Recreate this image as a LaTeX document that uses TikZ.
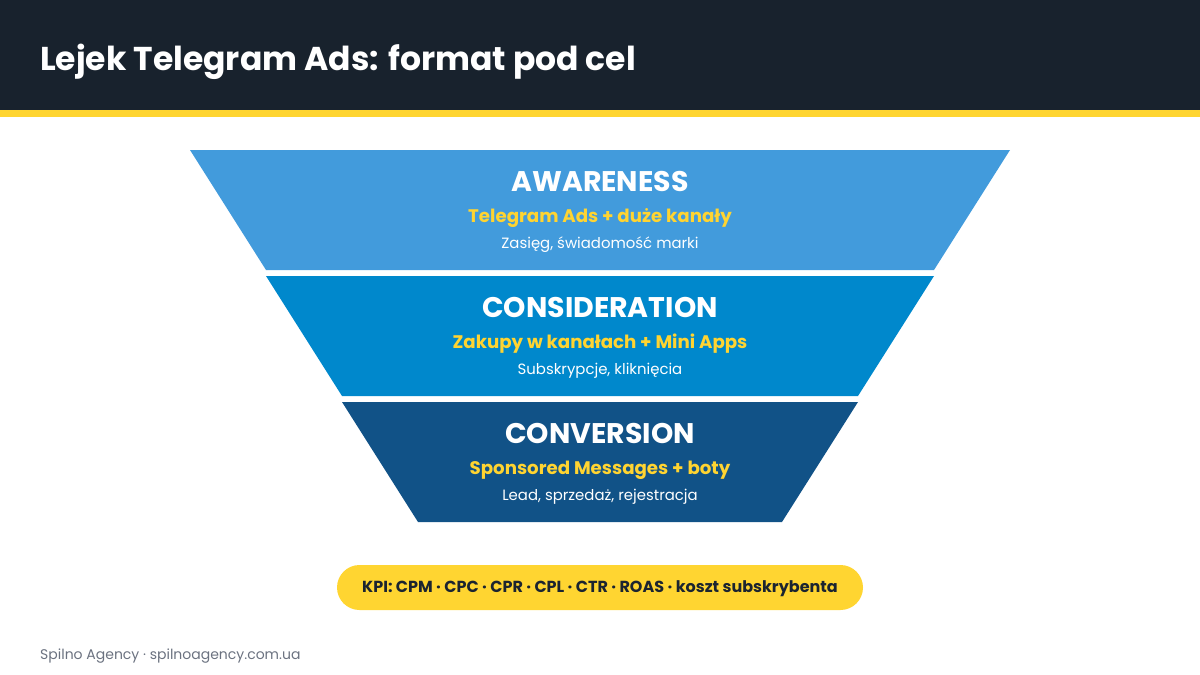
\documentclass[tikz,border=0pt]{standalone}
\usepackage{fontspec}
\setmainfont{Poppins}
\definecolor{hdr}{HTML}{18222D}
\definecolor{accentyellow}{HTML}{FFD531}
\definecolor{lone}{HTML}{429BDC}
\definecolor{ltwo}{HTML}{0088CC}
\definecolor{lthree}{HTML}{115287}
\definecolor{ytext}{HTML}{FFD431}
\definecolor{kpitext}{HTML}{1B2430}
\definecolor{foot}{HTML}{6B7280}
\tikzset{
  lvltitle/.style={anchor=base, inner sep=0pt, text=white, font=\fontsize{28.4}{32}\selectfont\bfseries},
  lvlsub/.style={anchor=base, inner sep=0pt, text=ytext, font=\fontsize{18.2}{21}\selectfont\bfseries},
  lvlnote/.style={anchor=base, inner sep=0pt, text=white, font=\fontsize{14.9}{17}\selectfont},
}
\begin{document}
\begin{tikzpicture}[x=1pt,y=-1pt]
\useasboundingbox (0,0) rectangle (1200,675);
\fill[hdr] (0,0) rectangle (1200,110);
\fill[accentyellow] (0,110) rectangle (1200,117);
\node[anchor=base west, inner sep=0pt, text=white, font=\fontsize{33}{38}\selectfont\bfseries] (title) at (40,70) {Lejek Telegram Ads: format pod cel};
% funnel
\fill[lone] (190,150) -- (1010,150) -- (934,270) -- (266,270) -- cycle;
\fill[ltwo] (266,276) -- (934,276) -- (858,396) -- (342,396) -- cycle;
\fill[lthree] (342,402) -- (858,402) -- (782,522) -- (418,522) -- cycle;
\node[lvltitle] (t1) at (600,191) {AWARENESS};
\node[lvlsub] (s1) at (600,222) {Telegram Ads + duże kanały};
\node[lvlnote] (n1) at (600,248) {Zasięg, świadomość marki};
\node[lvltitle] (t2) at (600,317) {CONSIDERATION};
\node[lvlsub] (s2) at (600,348) {Zakupy w kanałach + Mini Apps};
\node[lvlnote] (n2) at (600,374) {Subskrypcje, kliknięcia};
\node[lvltitle] (t3) at (600,443) {CONVERSION};
\node[lvlsub] (s3) at (600,474) {Sponsored Messages + boty};
\node[lvlnote] (n3) at (600,500) {Lead, sprzedaż, rejestracja};
% KPI pill
\fill[accentyellow, rounded corners=22.5pt] (337,565) rectangle (863,610);
\node[anchor=base, inner sep=0pt, text=kpitext, font=\fontsize{16}{19}\selectfont\bfseries] (kpi) at (600,592) {KPI: CPM · CPC · CPR · CPL · CTR · ROAS · koszt subskrybenta};
\node[anchor=base west, inner sep=0pt, text=foot, font=\fontsize{14}{17}\selectfont] (footer) at (40,659) {Spilno Agency · spilnoagency.com.ua};
\end{tikzpicture}
\end{document}
